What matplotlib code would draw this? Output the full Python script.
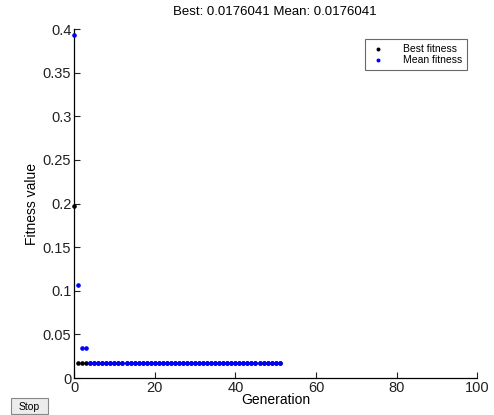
import matplotlib
matplotlib.use("Agg")
import matplotlib.pyplot as plt
from matplotlib.patches import FancyBboxPatch

plt.rcParams['font.family'] = ['Liberation Sans', 'DejaVu Sans']

generations = list(range(0, 52))
best_fitness = [0.197] + [0.0176041] * 51
mean_fitness = [0.3935, 0.107, 0.0344, 0.0344] + [0.0176041] * 48
title_text = "Best: 0.0176041 Mean: 0.0176041"
xticks = [0, 20, 40, 60, 80, 100]
yticks = [0, 0.05, 0.1, 0.15, 0.2, 0.25, 0.3, 0.35, 0.4]
ytick_labels = ["0", "0.05", "0.1", "0.15", "0.2", "0.25", "0.3", "0.35", "0.4"]

fig = plt.figure(figsize=(4.94, 4.15), dpi=100)
ax = fig.add_axes([0.150, 0.089, 0.816, 0.841])
ax.plot(generations, best_fitness, 'o', color='black', markersize=2.3, label='Best fitness',
        linestyle='none', clip_on=False, zorder=3)
ax.plot(generations, mean_fitness, 'o', color='#0000ff', markersize=2.3, label='Mean fitness',
        linestyle='none', clip_on=False, zorder=4)
ax.set_xlim(0, 100)
ax.set_ylim(0, 0.4)
ax.set_xticks(xticks)
ax.set_yticks(yticks)
ax.set_yticklabels(ytick_labels)
ax.tick_params(direction='in', length=4, labelsize=10.5, width=0.8, colors='#222222')
ax.tick_params(axis='x', pad=2)
ax.tick_params(axis='y', pad=2)
for s in ['top', 'right']:
    ax.spines[s].set_visible(False)
for s in ['left', 'bottom']:
    ax.spines[s].set_linewidth(0.9)
ax.set_xlabel('Generation', fontsize=10, labelpad=-1)
ax.set_ylabel('Fitness value', fontsize=10, labelpad=3)
fig.text(0.557, 0.972, title_text, ha='center', va='center', fontsize=9.5)
leg = ax.legend(loc='upper right', bbox_to_anchor=(0.987, 0.985), fontsize=7.5, frameon=True,
                fancybox=False, edgecolor='#444444', handlelength=1.6, handletextpad=1.6,
                borderpad=0.45, labelspacing=0.1, markerscale=0.8)
leg.get_frame().set_linewidth(0.8)

# Stop button
btn = FancyBboxPatch((0.022, 0.002), 0.075, 0.038, boxstyle='square,pad=0', transform=fig.transFigure,
                     facecolor='#ececec', edgecolor='#888888', linewidth=0.8)
fig.patches.append(btn)
fig.text(0.06, 0.02, 'Stop', ha='center', va='center', fontsize=7.5)

fig.savefig('out.png', dpi=100)
